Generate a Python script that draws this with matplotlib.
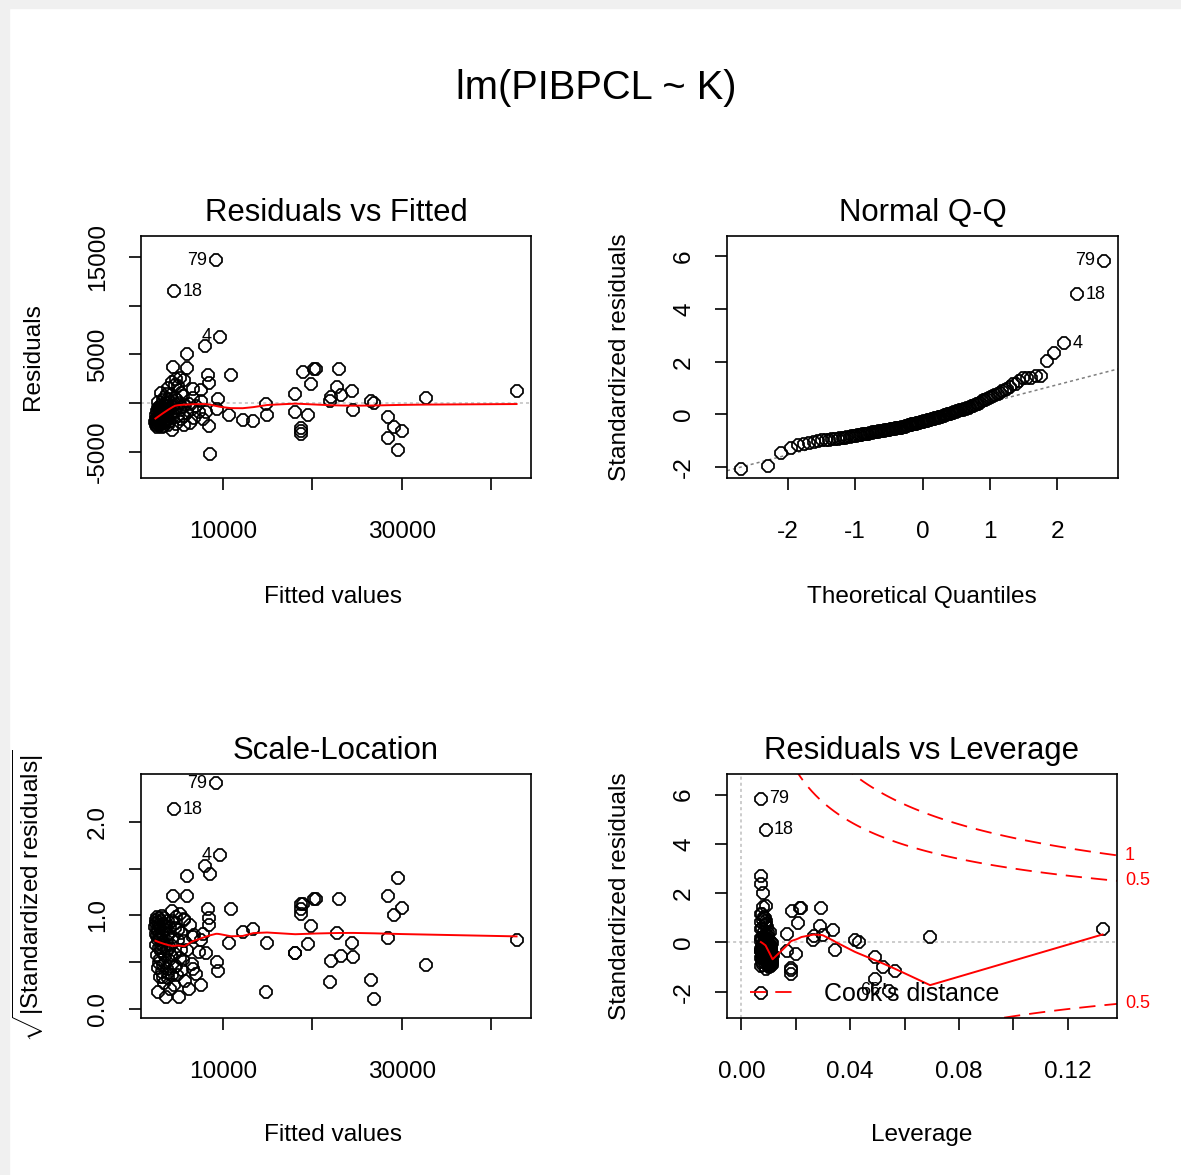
import numpy as np
import matplotlib.pyplot as plt
from matplotlib.patches import Rectangle
from statistics import NormalDist

plt.rcParams['font.family'] = ['Liberation Sans', 'DejaVu Sans']
plt.rcParams['mathtext.fontset'] = 'custom'
plt.rcParams['mathtext.rm'] = 'Liberation Sans'
plt.rcParams['mathtext.it'] = 'Liberation Sans:italic'

# fitted values and residuals of lm(PIBPCL ~ K), in observation order (1..140)
fitted = [
    4340, 4600, 10640, 9700, 3220, 3250, 10900, 4100, 3030, 9472,
    3400, 2750, 4450, 13410, 4400, 2550, 4650, 4526, 5600, 4600,
    12214, 2700, 4300, 18059, 2750, 4200, 3800, 18093, 2900, 5700,
    2550, 18750, 6200, 3600, 18913, 3900, 3000, 18700, 5400, 6030,
    18690, 8460, 5000, 2700, 19554, 3000, 5300, 19891, 6000, 3150,
    20194, 3300, 3350, 20400, 4900, 7720, 22000, 5650, 3400, 22140,
    6300, 5500, 22814, 3450, 5000, 29558, 2900, 23005, 3550, 3850,
    23186, 2850, 8280, 26556, 4700, 2950, 24387, 3700, 9213, 6700,
    3100, 24578, 4100, 3500, 26939, 6500, 4800, 28434, 3100, 3700,
    28434, 3050, 7000, 29108, 6600, 2600, 30086, 8090, 3900, 4000,
    14800, 2450, 4500, 2500, 14946, 3500, 2480, 32705, 3250, 4300,
    3300, 8539, 2800, 8460, 6800, 9326, 3600, 2950, 7530, 42855,
    2800, 4200, 3700, 5954, 5280, 5200, 5200, 7977, 2650, 3800,
    2600, 3900, 7500, 2700, 7340, 2650, 4800, 3150, 5800, 5100,
]
residuals = [
    -2760, -870, -1260, 6800, -2480, 290, 2860, -1880, 1060, 420,
    -2380, -490, 3670, -1840, -1480, -1190, 510, 11480, -2300, 1870,
    -1710, -2150, -330, 895, -1750, 850, -2230, -900, -1060, 2330,
    -2100, -3170, -120, -1970, 3170, -1610, -710, -2840, -430, 3640,
    -2590, -2400, -1380, 80, -1210, -1910, 1010, 1960, -990, -1660,
    3480, -550, -1530, 3450, 330, -1600, 200, -1320, -200, 645,
    -2020, 700, 1660, -1120, 1770, -4840, -2350, 3450, -800, 380,
    790, -1580, 2870, 240, -2130, -300, 1240, -1330, 14680, 1470,
    -960, -760, 120, -1770, 30, -580, 2450, -1420, -2200, 950,
    -3620, -1430, -360, -2470, 470, -2430, -2880, -900, 1570, -680,
    -85, -1950, -160, -2280, -1250, 600, -1630, 540, -1290, 2200,
    -2050, -5210, -610, 2030, -1560, -645, -40, -1400, 1350, 1275,
    -2000, -1160, -460, 5080, -1680, 2580, -740, 5910, -1820, -1030,
    -1510, -270, 160, -1350, -930, -830, -520, -390, -230, 40,
]

# axis ticks and tick labels
fit_ticks = [10000, 20000, 30000, 40000]
fit_labels = ['10000', '', '30000', '']
res_ticks = [-5000, 0, 5000, 10000, 15000]
res_labels = ['-5000', '', '5000', '', '15000']
qq_xticks = [-2, -1, 0, 1, 2]
std_ticks = [-2, 0, 2, 4, 6]
sl_ticks = [0.0, 0.5, 1.0, 1.5, 2.0]
sl_labels = ['0.0', '', '1.0', '', '2.0']
lev_ticks = [0.0, 0.02, 0.04, 0.06, 0.08, 0.10, 0.12]
lev_labels = ['0.00', '', '0.04', '', '0.08', '', '0.12']
cook_levels = [0.5, 1.0]


def lowess(x, y, f=2/3, iters=3):
    order = np.argsort(x, kind='mergesort')
    xs = np.asarray(x, float)[order]
    ys = np.asarray(y, float)[order]
    n = len(xs)
    ns = max(min(int(round(f * n)), n), 2)
    rw = np.ones(n)
    fit = np.zeros(n)
    for it in range(iters + 1):
        for i in range(n):
            d = np.abs(xs - xs[i])
            h = np.sort(d)[ns - 1]
            u = d / h
            w = np.where(u < 0.999, (1 - u**3)**3, 0.0)
            w[u <= 0.001] = 1.0
            w = w * rw
            w = w / w.sum()
            a = np.sum(w * xs)
            b = np.sum(w * (xs - a)**2)
            if np.sqrt(b) > 0.001 * (xs[-1] - xs[0]):
                w = w * ((xs[i] - a) / b * (xs - a) + 1)
            fit[i] = np.sum(w * ys)
        if it == iters:
            break
        res = ys - fit
        cmad = 6 * np.median(np.abs(res))
        u = np.abs(res) / cmad
        rw = np.where(u < 0.999, (1 - u**2)**2, 0.0)
        rw[u <= 0.001] = 1.0
    return xs, fit


def ext(lo, hi, f):
    d = (hi - lo) * f
    return lo - d, hi + d


# regression diagnostics
fv = np.array(fitted, float)
r = np.array(residuals, float)
n, p = len(fv), 2
s = np.sqrt(np.sum(r**2) / (n - p))
hat = 1 / n + (fv - fv.mean())**2 / np.sum((fv - fv.mean())**2)
rs = r / (s * np.sqrt(1 - hat))
cook = rs**2 * hat / (p * (1 - hat))
nd = NormalDist()
theo = np.empty(n)
theo[np.argsort(rs, kind='mergesort')] = [nd.inv_cdf((i - 0.5) / n) for i in range(1, n + 1)]
show_r = np.argsort(-np.abs(r))[:3]
show_rs = np.argsort(-np.abs(rs))[:3]
show_cook = np.argsort(-cook)[:3]

W, H = 1181, 1175
fig = plt.figure(figsize=(W / 100, H / 100), dpi=100)
fig.patches.append(Rectangle((0, 1 - 8 / H), 1, 8 / H, transform=fig.transFigure,
                             color='#f0f0f0', zorder=-5))
fig.patches.append(Rectangle((0, 0), 9 / W, 1, transform=fig.transFigure,
                             color='#f0f0f0', zorder=-5))


def px_axes(x0, y0, x1, y1):
    return fig.add_axes([x0 / W, 1 - y1 / H, (x1 - x0) / W, (y1 - y0) / H])


def ftext(x, y, s, **kw):
    fig.text(x / W, 1 - y / H, s, **kw)


TICK = 17.6
RED_DASH = (0, (9, 5))
# small open circles as drawn by the R screen device look like octagons
PT_STYLE = dict(ls='none', marker='8', ms=8.6, mfc='none', mec='black', mew=1.25)


def style(ax, title):
    for sp in ax.spines.values():
        sp.set_linewidth(1.2)
    ax.tick_params(direction='out', length=8.5, width=1.2, labelsize=TICK)
    ax.tick_params(axis='x', pad=22.5)
    ax.tick_params(axis='y', pad=14.5)
    ax.set_title(title, fontsize=22.4, pad=11)


def yticks(ax, ticks, labels=None):
    ax.set_yticks(ticks, labels=labels if labels is not None else [str(t) for t in ticks],
                  rotation=90, va='center')


def label_ids(ax, x, y, idx):
    xm = (x[idx].min() + x[idx].max()) / 2
    for i in idx:
        left = x[i] > xm
        ax.annotate(str(i + 1), (x[i], y[i]), xytext=(-6 if left else 6, 0),
                    textcoords='offset points', ha='right' if left else 'left',
                    va='center', fontsize=13, annotation_clip=False)


ax1 = px_axes(141, 236, 531, 478)
ax2 = px_axes(727, 236, 1118, 478)
ax3 = px_axes(141, 774, 531, 1018)
ax4 = px_axes(727, 774, 1117, 1018)

# Residuals vs Fitted
ax1.axhline(0, color='#bebebe', lw=1.1, ls=(0, (2, 2)))
ax1.plot(fv, r, **PT_STYLE)
ax1.plot(*lowess(fv, r), color='red', lw=1.4)
ax1.set_xlim(ext(fv.min(), fv.max(), 0.04))
ax1.set_ylim(ext(*ext(r.min(), r.max(), 0.08), 0.04))
ax1.set_xticks(fit_ticks, labels=fit_labels)
yticks(ax1, res_ticks, res_labels)
style(ax1, 'Residuals vs Fitted')
label_ids(ax1, fv, r, show_r)

# Normal Q-Q
q1, q3 = np.quantile(rs, [0.25, 0.75])
t1, t3 = nd.inv_cdf(0.25), nd.inv_cdf(0.75)
slope = (q3 - q1) / (t3 - t1)
ax2.axline((0, q1 - slope * t1), slope=slope, color='#7f7f7f', lw=1.1, ls=(0, (2, 2)))
ax2.plot(theo, rs, **PT_STYLE)
ax2.set_xlim(ext(theo.min(), theo.max(), 0.04))
ax2.set_ylim(ext(rs.min(), rs.max() + 0.075 * (rs.max() - rs.min()), 0.04))
ax2.set_xticks(qq_xticks, labels=[str(t) for t in qq_xticks])
yticks(ax2, std_ticks)
style(ax2, 'Normal Q-Q')
label_ids(ax2, theo, rs, show_rs)

# Scale-Location
sq = np.sqrt(np.abs(rs))
ax3.plot(fv, sq, **PT_STYLE)
ax3.plot(*lowess(fv, sq), color='red', lw=1.4)
ax3.set_xlim(ext(fv.min(), fv.max(), 0.04))
ax3.set_ylim(ext(0, sq.max(), 0.04))
ax3.set_xticks(fit_ticks, labels=fit_labels)
yticks(ax3, sl_ticks, sl_labels)
style(ax3, 'Scale-Location')
label_ids(ax3, fv, sq, show_rs)

# Residuals vs Leverage
ax4.axhline(0, color='#bebebe', lw=1.1, ls=(0, (2, 2)))
ax4.axvline(0, color='#bebebe', lw=1.1, ls=(0, (2, 2)))
ax4.plot(hat, rs, **PT_STYLE)
ax4.plot(*lowess(hat, rs), color='red', lw=1.4)
xl4 = ext(0, hat.max(), 0.04)
ax4.set_xlim(xl4)
ax4.set_ylim(ext(*ext(rs.min(), rs.max(), 0.08), 0.04))
hh = np.linspace(min(hat.min(), hat.max() / 100), xl4[1], 101)
cook_line = None
for lv in cook_levels:
    cl = np.sqrt(lv * p * (1 - hh) / hh)
    cook_line, = ax4.plot(hh, cl, color='red', lw=1.3, ls=RED_DASH)
    ax4.plot(hh, -cl, color='red', lw=1.3, ls=RED_DASH)
ax4.legend([cook_line], ["Cook's distance"], loc='lower left', frameon=False,
           fontsize=18, handlelength=1.75, handletextpad=1.2,
           bbox_to_anchor=(0.059, 0.05), borderaxespad=0, borderpad=0)
ymult = np.sqrt(p * (1 - xl4[1]) / xl4[1])
lo4, hi4 = ax4.get_ylim()
for lv in sorted(cook_levels, reverse=True):
    for sign in (-1, 1):
        yv = sign * np.sqrt(lv) * ymult
        if lo4 <= yv <= hi4:
            ax4.text(1.02, yv, f'{lv:g}', transform=ax4.get_yaxis_transform(),
                     color='red', fontsize=13, ha='left', va='center', clip_on=False)
ax4.set_xticks(lev_ticks, labels=lev_labels)
yticks(ax4, std_ticks)
style(ax4, 'Residuals vs Leverage')
label_ids(ax4, hat, rs, show_cook)

# axis labels and overall title
ftext(596, 99, 'lm(PIBPCL ~ K)', fontsize=28.7, ha='center', va='baseline')
ftext(333, 603, 'Fitted values', fontsize=TICK, ha='center', va='baseline')
ftext(922, 603, 'Theoretical Quantiles', fontsize=TICK, ha='center', va='baseline')
ftext(333, 1141, 'Fitted values', fontsize=TICK, ha='center', va='baseline')
ftext(922, 1141, 'Leverage', fontsize=TICK, ha='center', va='baseline')
ylab = dict(fontsize=TICK, rotation=90, rotation_mode='anchor', ha='center', va='baseline')
ftext(39, 357, 'Residuals', **ylab)
ftext(626, 357, 'Standardized residuals', **ylab)
ftext(39, 896, r'$\sqrt{|\mathrm{Standardized\ residuals}|}$', **ylab)
ftext(626, 896, 'Standardized residuals', **ylab)

fig.savefig('out.png', dpi=100)
